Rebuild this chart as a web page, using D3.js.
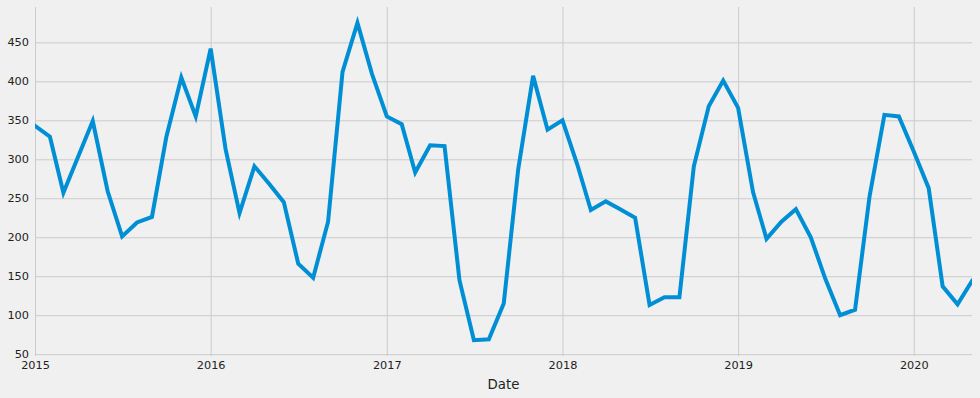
<!DOCTYPE html>
<html>
<head>
<meta charset="utf-8">
<script src="https://cdn.jsdelivr.net/npm/d3@7"></script>
<style>
  html, body { margin: 0; padding: 0; background: #f0f0f0; }
  svg { display: block; }
</style>
</head>
<body>
<svg id="chart" width="980" height="398"></svg>
<script>
// Monthly series, starting 2015-01
const startMonth = "2015-01-01";
const values = [
  343, 329, 257, 304, 349, 259, 201, 219, 226, 329, 405, 355,
  442, 313, 231, 291, 269, 245, 166, 148, 220, 412, 475, 410,
  355, 345, 283, 318, 317, 145, 68, 69, 115, 287, 407, 338,
  350, 293, 235, 246, 236, 225, 113, 123, 123, 291, 368, 401,
  366, 258, 198, 220, 236, 200, 147, 100, 107, 252, 357, 355,
  310, 263, 137, 114, 144
];
const yTicks = [50, 100, 150, 200, 250, 300, 350, 400, 450];
const xTickYears = [2015, 2016, 2017, 2018, 2019, 2020];
const xLabel = "Date";

(function () {
const parse = d3.timeParse("%Y-%m-%d");
const t0 = parse(startMonth);
const data = values.map((v, i) => ({ date: d3.timeMonth.offset(t0, i), value: v }));

const svg = d3.select("#chart");
const W = 980, H = 398;
const mL = 35, mR = 972, mT = 7, mB = 356;

svg.append("rect").attr("width", W).attr("height", H).attr("fill", "#f0f0f0");

const x = d3.scaleTime()
  .domain(d3.extent(data, d => d.date))
  .range([mL, mR]);

const ymin = d3.min(values), ymax = d3.max(values);
const pad = (ymax - ymin) * 0.05;
const y = d3.scaleLinear()
  .domain([ymin - pad, ymax + pad])
  .range([mB, mT]);

const font = "'DejaVu Sans', sans-serif";
const gridColor = "#cbcbcb";

// Horizontal grid + y axis
const yAxis = d3.axisLeft(y).tickValues(yTicks).tickSize(-(mR - mL)).tickPadding(6);
const gy = svg.append("g").attr("transform", `translate(${mL},0)`).call(yAxis);
gy.select(".domain").remove();
gy.selectAll(".tick line").attr("stroke", gridColor).attr("stroke-width", 1);
gy.selectAll(".tick text").attr("fill", "#222").style("font-family", font).style("font-size", "11.3px");

// Vertical grid + x axis
const xAxis = d3.axisBottom(x)
  .tickValues(xTickYears.map(yr => new Date(yr, 0, 1)))
  .tickFormat(d3.timeFormat("%Y"))
  .tickSize(-(mB - mT))
  .tickPadding(5);
const gx = svg.append("g").attr("transform", `translate(0,${mB})`).call(xAxis);
gx.select(".domain").remove();
gx.selectAll(".tick line").attr("stroke", gridColor).attr("stroke-width", 1);
gx.selectAll(".tick text").attr("fill", "#222").style("font-family", font).style("font-size", "11.3px");

// Axis label
svg.append("text")
  .attr("x", (mL + mR) / 2)
  .attr("y", 388.5)
  .attr("text-anchor", "middle")
  .attr("fill", "#222")
  .style("font-family", font)
  .style("font-size", "13.3px")
  .text(xLabel);

// Clip to plot area
svg.append("clipPath").attr("id", "clip")
  .append("rect").attr("x", mL).attr("y", mT).attr("width", mR - mL).attr("height", mB - mT);

const line = d3.line().x(d => x(d.date)).y(d => y(d.value));
svg.append("path")
  .datum(data)
  .attr("clip-path", "url(#clip)")
  .attr("fill", "none")
  .attr("stroke", "#008fd5")
  .attr("stroke-width", 4)
  .attr("stroke-linejoin", "miter")
  .attr("stroke-linecap", "square")
  .attr("d", line);
})();
</script>
</body>
</html>
